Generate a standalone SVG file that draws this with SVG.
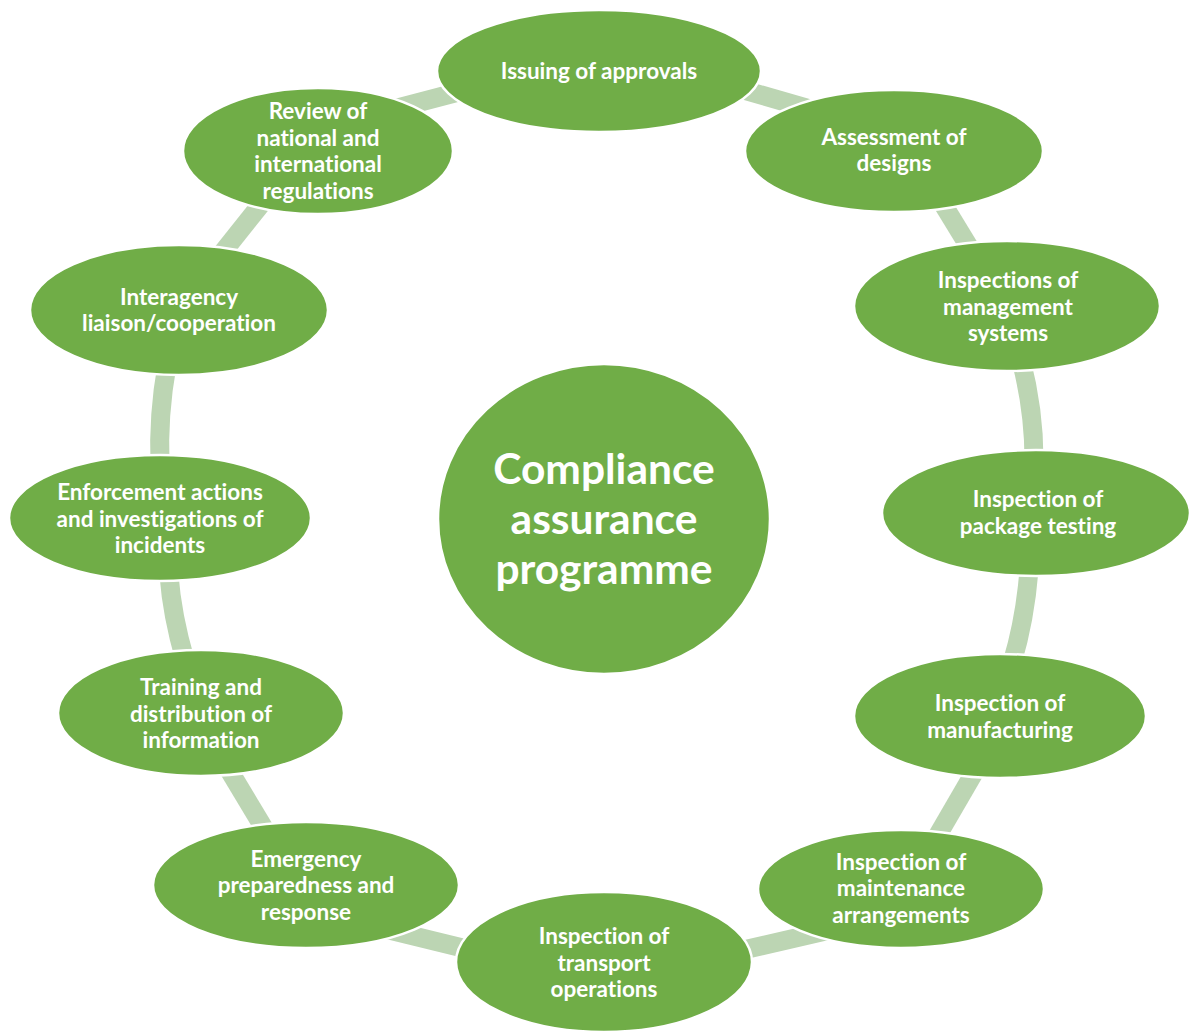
<svg xmlns="http://www.w3.org/2000/svg" width="1190" height="1032" viewBox="0 0 1190 1032">
<style>
.node{fill:#70ad47;stroke:#ffffff;stroke-width:2.5}
.lbl{font-family:Lato,"Liberation Sans",sans-serif;font-weight:bold;font-size:22.5px;fill:#ffffff;text-anchor:middle;font-variant-ligatures:none}
.big{font-family:Lato,"Liberation Sans",sans-serif;font-weight:bold;font-size:42.5px;fill:#ffffff;text-anchor:middle;font-variant-ligatures:none}
.conn{fill:none;stroke:#bcd5b3;stroke-width:19;stroke-linecap:butt}
</style>
<rect width="1190" height="1032" fill="#ffffff"/>
<g id="connectors">
<path class="conn" d="M730,86 L820,112"/>
<path class="conn" d="M938,196 L974,255"/>
<path class="conn" d="M1021,360 Q1034,410 1034,460"/>
<path class="conn" d="M1029,570 Q1025,620 1012,663"/>
<path class="conn" d="M978,766 L935,840"/>
<path class="conn" d="M830,930 L730,953"/>
<path class="conn" d="M475,951 L385,929"/>
<path class="conn" d="M268,835 L226,765"/>
<path class="conn" d="M185,660 Q172,615 169,575"/>
<path class="conn" d="M160,465 Q158,415 167,365"/>
<path class="conn" d="M215,262 L270,193"/>
<path class="conn" d="M390,110 L470,89"/>
</g>
<g id="center">
<ellipse class="node" cx="604" cy="519" rx="166" ry="155"/>
<text class="big" x="604" y="484">Compliance</text>
<text class="big" x="604" y="534">assurance</text>
<text class="big" x="604" y="584">programme</text>
</g>
<g id="n1">
<ellipse class="node" cx="599" cy="71" rx="162" ry="61"/>
<text class="lbl" x="599" y="79">Issuing of approvals</text>
</g>
<g id="n2">
<ellipse class="node" cx="894" cy="151" rx="149" ry="61"/>
<text class="lbl" x="894" y="145">Assessment of</text>
<text class="lbl" x="894" y="171">designs</text>
</g>
<g id="n3">
<ellipse class="node" cx="1007" cy="306" rx="153" ry="65"/>
<text class="lbl" x="1008" y="288">Inspections of</text>
<text class="lbl" x="1008" y="315">management</text>
<text class="lbl" x="1008" y="341">systems</text>
</g>
<g id="n4">
<ellipse class="node" cx="1036" cy="513" rx="154" ry="63"/>
<text class="lbl" x="1038" y="507">Inspection of</text>
<text class="lbl" x="1038" y="534">package testing</text>
</g>
<g id="n5">
<ellipse class="node" cx="1000" cy="716" rx="146" ry="62"/>
<text class="lbl" x="1000" y="711">Inspection of</text>
<text class="lbl" x="1000" y="738">manufacturing</text>
</g>
<g id="n6">
<ellipse class="node" cx="901" cy="889" rx="143" ry="59"/>
<text class="lbl" x="901" y="870">Inspection of</text>
<text class="lbl" x="901" y="896">maintenance</text>
<text class="lbl" x="901" y="923">arrangements</text>
</g>
<g id="n7">
<ellipse class="node" cx="604" cy="962" rx="148" ry="70"/>
<text class="lbl" x="604" y="944">Inspection of</text>
<text class="lbl" x="604" y="971">transport</text>
<text class="lbl" x="604" y="997">operations</text>
</g>
<g id="n8">
<ellipse class="node" cx="306" cy="885" rx="153" ry="63"/>
<text class="lbl" x="306" y="867">Emergency</text>
<text class="lbl" x="306" y="893">preparedness and</text>
<text class="lbl" x="306" y="920">response</text>
</g>
<g id="n9">
<ellipse class="node" cx="201" cy="713" rx="143" ry="63"/>
<text class="lbl" x="201" y="695">Training and</text>
<text class="lbl" x="201" y="722">distribution of</text>
<text class="lbl" x="201" y="748">information</text>
</g>
<g id="n10">
<ellipse class="node" cx="160" cy="518" rx="151" ry="63"/>
<text class="lbl" x="160" y="500">Enforcement actions</text>
<text class="lbl" x="160" y="527">and investigations of</text>
<text class="lbl" x="160" y="553">incidents</text>
</g>
<g id="n11">
<ellipse class="node" cx="179" cy="310" rx="149" ry="65"/>
<text class="lbl" x="179" y="305">Interagency</text>
<text class="lbl" x="179" y="331">liaison/cooperation</text>
</g>
<g id="n12">
<ellipse class="node" cx="318" cy="151" rx="135" ry="63"/>
<text class="lbl" x="318" y="119">Review of</text>
<text class="lbl" x="318" y="146">national and</text>
<text class="lbl" x="318" y="172">international</text>
<text class="lbl" x="318" y="199">regulations</text>
</g>
</svg>
